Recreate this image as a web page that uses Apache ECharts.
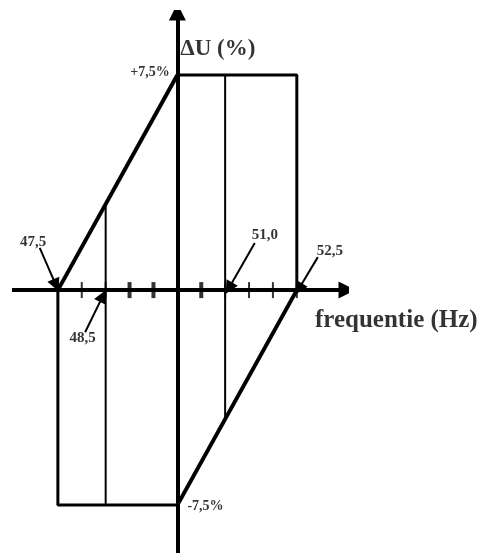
<!DOCTYPE html>
<html>
<head>
<meta charset="utf-8">
<script src="https://cdn.jsdelivr.net/npm/echarts@6/dist/echarts.min.js"></script>
<style>
  html, body { margin: 0; padding: 0; background: #fff; }
  #chart { width: 488px; height: 553px; }
</style>
</head>
<body>
<div id="chart"></div>
<script>
// frequency (Hz) and voltage deviation (%) limits
const xMin = 46.54, xMax = 53.55;
const yMin = -9.17, yMax = 9.7;

const upperLimit = [[47.5, 0], [50, 7.5]];
const lowerLimit = [[50, -7.5], [52.5, 0]];
const upperBox = [[50, 7.5], [52.5, 7.5], [52.5, 0]];
const lowerBox = [[47.5, 0], [47.5, -7.5], [50, -7.5]];
const line485 = [[48.5, -7.5], [48.5, 3]];
const line510 = [[51, 7.5], [51, -4.5]];

const ticksThin = [47.5, 48, 48.5, 51, 51.5, 52, 52.5];
const ticksThick = [49, 49.5, 50.5];

// callouts: text, label anchor, arrow tail, arrow tip
const calloutText = ["47,5", "48,5", "51,0", "52,5"];
const calloutLabel = [[46.98, 1.67], [48.02, -1.67], [51.83, 1.92], [53.19, 1.36]];
const calloutTail = [[47.12, 1.47], [48.07, -1.47], [51.62, 1.64], [52.94, 1.15]];
const calloutTip = [[47.46, 0.17], [48.44, -0.21], [51.08, 0.07], [52.54, 0.04]];

const font = "Liberation Serif";

const chart = echarts.init(document.getElementById("chart"));

function poly(data, width) {
  return {
    type: "line",
    data: data,
    symbol: "none",
    silent: true,
    lineStyle: { color: "#000", width: width },
    z: 3
  };
}

function arrows(list, width, size) {
  return {
    type: "lines",
    coordinateSystem: "cartesian2d",
    silent: true,
    symbol: ["none", "triangle"],
    symbolSize: size,
    lineStyle: { color: "#000", width: width, opacity: 1 },
    data: list.map(c => ({ coords: c })),
    z: 4
  };
}

function textMark(items) {
  return {
    type: "scatter",
    symbolSize: 0,
    silent: true,
    clip: false,
    data: items.map(t => ({
      value: t.at,
      label: {
        show: true,
        formatter: t.text,
        position: t.pos,
        distance: 0,
        color: "#000",
        fontFamily: font,
        fontWeight: "bold",
        fontSize: t.size
      }
    })),
    z: 5
  };
}

chart.setOption({
  animation: false,
  grid: { left: 12, top: 12, width: 335, height: 541 },
  xAxis: {
    type: "value", min: xMin, max: xMax,
    axisLine: { show: false }, axisTick: { show: false },
    axisLabel: { show: false }, splitLine: { show: false }
  },
  yAxis: {
    type: "value", min: yMin, max: yMax,
    axisLine: { show: false }, axisTick: { show: false },
    axisLabel: { show: false }, splitLine: { show: false }
  },
  series: [
    // axes
    arrows([[[xMin, 0], [xMax, 0]], [[50, yMin], [50, yMax]]], 4, [15, 17]),
    poly(upperBox, 3),
    poly(lowerBox, 3),
    poly(upperLimit, 4),
    poly(lowerLimit, 4),
    poly(line485, 2),
    poly(line510, 2),
    {
      type: "scatter", silent: true, symbol: "rect", symbolSize: [2, 16],
      itemStyle: { color: "#000" }, data: ticksThin.map(v => [v, 0]), z: 4
    },
    {
      type: "scatter", silent: true, symbol: "rect", symbolSize: [4, 16],
      itemStyle: { color: "#000" }, data: ticksThick.map(v => [v, 0]), z: 4
    },
    arrows(calloutTail.map((c, i) => [c, calloutTip[i]]), 2, [8, 13]),
    textMark(calloutText.map((t, i) => ({ text: t, at: calloutLabel[i], pos: "inside", size: 15 }))),
    textMark([
      { text: "+7,5%", at: [49.84, 7.6], pos: "left", size: 14 },
      { text: "-7,5%", at: [50.21, -7.54], pos: "right", size: 14 },
      { text: "ΔU (%)", at: [50.06, 8.42], pos: "right", size: 23 },
      { text: "frequentie (Hz)", at: [52.88, -1.05], pos: "right", size: 25 }
    ])
  ]
});
</script>
</body>
</html>
